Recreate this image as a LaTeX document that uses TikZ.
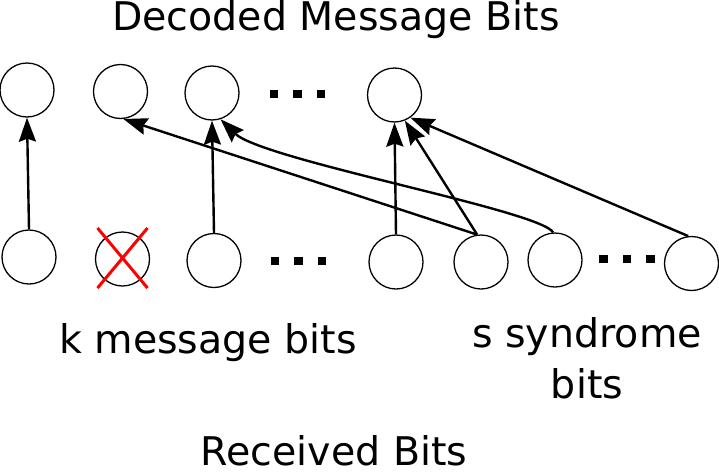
\documentclass[tikz,border=0pt]{standalone}
\usepackage{fontspec}
\setmainfont{DejaVu Sans}
\usetikzlibrary{arrows.meta,calc}
\begin{document}
\begin{tikzpicture}[x=1pt,y=-1pt,
  bit/.style={circle,draw,line width=1.3pt,minimum size=54pt,inner sep=0pt},
  dotsq/.style={fill=black,minimum size=8.5pt,inner sep=0pt,rectangle},
  conn/.style={line width=2.4pt,-{Stealth[length=24pt,width=17pt,inset=3pt]}},
  lbl/.style={font=\fontsize{39.5}{46}\selectfont,anchor=base,inner sep=0pt}]
\useasboundingbox (0,0) rectangle (719,474);
% top row
\node[bit] (t1) at (27,90) {};
\node[bit] (t2) at (120.5,91.5) {};
\node[bit] (t3) at (212,93) {};
\node[bit] (t4) at (394.5,95) {};
\node[dotsq] (tda) at (274,94) {};
\node[dotsq] (tdb) at (297.5,94) {};
\node[dotsq] (tdc) at (321,94) {};
% bottom row
\node[bit] (b1) at (29,257) {};
\node[bit] (b2) at (122.5,259) {};
\node[bit] (b3) at (214,260.5) {};
\node[bit] (b4) at (396,262) {};
\node[bit] (b5) at (481,262) {};
\node[bit] (b6) at (555,260) {};
\node[bit] (b7) at (691.5,263.5) {};
\node[dotsq] (bda) at (275,261) {};
\node[dotsq] (bdb) at (298.5,261) {};
\node[dotsq] (bdc) at (322,261) {};
\node[dotsq] (rda) at (603.5,259) {};
\node[dotsq] (rdb) at (627,259) {};
\node[dotsq] (rdc) at (650.5,259) {};
% red cross
\draw[red,line width=3pt] ($(b2)+(-25,-31)$) -- ($(b2)+(25,29)$);
\draw[red,line width=3pt] ($(b2)+(25,-31)$) -- ($(b2)+(-25,29)$);
% connectors
\draw[conn] (b1.north) -- (t1.south);
\draw[conn] (b3.north) -- (t3.south);
\draw[conn] (b4.north) -- (t4.south);
\draw[conn] (b5.98) -- (t2.-84);
\draw[conn] (b5.98) -- (t4.-68);
\draw[conn] (b6.94) .. controls ($(b6.94)+(-12,-22)$) and (262,160) .. (t3.-72);
\draw[conn] (b7.97) -- (t4.-55);
% labels
\node[lbl] (top) at (336,30) {Decoded Message Bits};
\node[lbl] (kmsg) at (208,353) {k message bits};
\node[lbl] (syn1) at (587,347) {s syndrome};
\node[lbl] (syn2) at (587,398) {bits};
\node[lbl] (recv) at (334,465) {Received Bits};
\end{tikzpicture}
\end{document}
